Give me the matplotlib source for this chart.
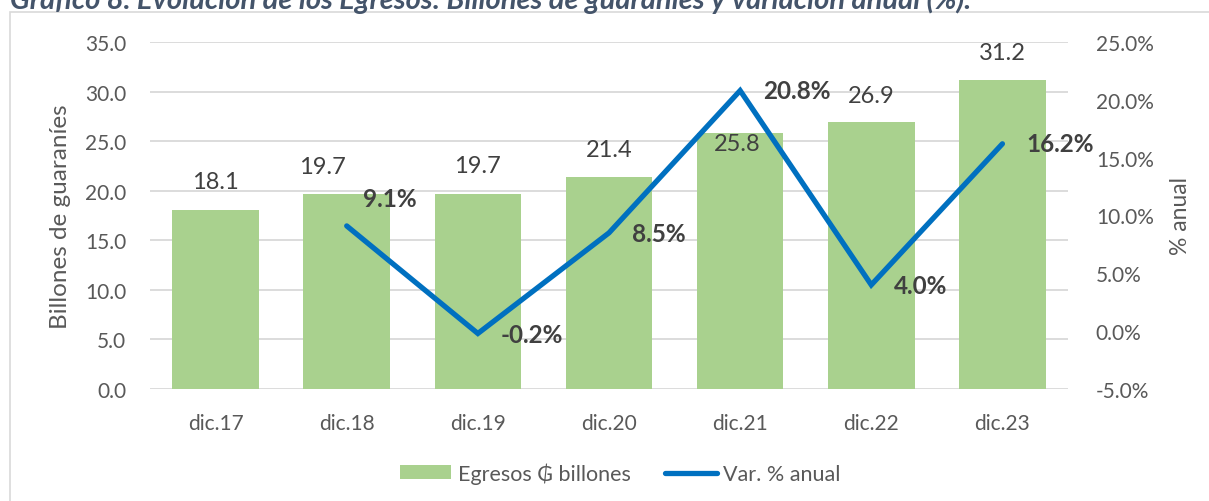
import matplotlib
matplotlib.use('Agg')
import matplotlib.pyplot as plt
from matplotlib.patches import Rectangle
from matplotlib.lines import Line2D
from matplotlib.patches import Patch

plt.rcParams['font.family'] = ['Lato', 'DejaVu Sans']

# data
periodos = ['dic.17', 'dic.18', 'dic.19', 'dic.20', 'dic.21', 'dic.22', 'dic.23']
egresos = [18.1, 19.7, 19.7, 21.4, 25.8, 26.9, 31.2]
variacion = [None, 9.1, -0.2, 8.5, 20.8, 4.0, 16.2]

# label offsets in pixels (hand placed in the original)
bar_lbl_off = [(0, 28), (-24, 27), (0, 28), (0, 27), (-3, -10), (0, 27), (0, 27)]
var_lbl_off = [None, (16, 27), (23, -1), (23, -1), (23, 0), (23, -1), (24, 0)]

bar_color = '#A9D18E'
line_color = '#0070C0'
grid_color = '#D9D9D9'
tick_color = '#595959'
lbl_color = '#404040'

W, H = 1209, 502
fig = plt.figure(figsize=(W / 100, H / 100), dpi=100)

# frame of the chart area
fig.patches.append(Rectangle((10 / W, -0.1), 1.2, 1 - 13 / 502 + 0.1, transform=fig.transFigure,
                             fill=False, edgecolor=grid_color, linewidth=1.2))

# title is cropped at the top edge, as in the source image
fig.text(10 / W, 1 - 9 / H, 'Gráfico 8. Evolución de los Egresos: Billones de guaraníes y variación anual (%).',
         fontsize=21, fontweight='bold', fontstyle='italic', color='#44546A', va='baseline', ha='left')

ax = fig.add_axes([150 / W, 1 - 390 / H, 918 / W, 347 / H])
ax2 = ax.twinx()

x = list(range(len(periodos)))
ax.bar(x, egresos, width=0.66, color=bar_color, zorder=2)
ax.set_xlim(-0.5, len(periodos) - 0.5)
ax.set_ylim(0, 35)
ax.set_yticks([0, 5, 10, 15, 20, 25, 30, 35])
ax.set_yticklabels(['%.1f' % v for v in ax.get_yticks()])
ax.set_xticks(x)
ax.set_xticklabels(periodos)
ax.grid(axis='y', color=grid_color, linewidth=1.3, zorder=0)
ax.set_axisbelow(True)
for s in ax.spines.values():
    s.set_visible(False)
for s in ax2.spines.values():
    s.set_visible(False)
ax.tick_params(axis='y', length=0, pad=17, labelsize=15, labelcolor=tick_color)
ax.tick_params(axis='x', length=0, pad=17, labelsize=15, labelcolor=tick_color)
ax.set_ylabel('Billones de guaraníes', fontsize=17.5, color=tick_color, labelpad=10)

for i, v in enumerate(egresos):
    dx, dy = bar_lbl_off[i]
    ax.annotate('%.1f' % v, (i, v), xytext=(dx, dy), textcoords='offset pixels',
                ha='center', va='center', fontsize=17, color=lbl_color, zorder=5)

xv = [i for i, v in enumerate(variacion) if v is not None]
yv = [v for v in variacion if v is not None]
ax2.plot(xv, yv, color=line_color, linewidth=3.8, solid_capstyle='round', solid_joinstyle='miter', zorder=3)
ax2.set_ylim(-5, 25)
ax2.set_yticks([-5, 0, 5, 10, 15, 20, 25])
ax2.set_yticklabels(['%.1f%%' % v for v in ax2.get_yticks()])
ax2.tick_params(axis='y', length=0, pad=20, labelsize=15, labelcolor=tick_color)
ax2.set_ylabel('% anual', fontsize=16.5, color=tick_color, rotation=90, labelpad=12)

for i, v in enumerate(variacion):
    if v is None:
        continue
    dx, dy = var_lbl_off[i]
    ax2.annotate('%.1f%%' % v, (i, v), xytext=(dx, dy), textcoords='offset pixels',
                 ha='left', va='center', fontsize=17.5, fontweight='bold', color=lbl_color, zorder=6)

handles = [Patch(facecolor=bar_color, edgecolor='none'),
           Line2D([0], [0], color=line_color, linewidth=3.8, solid_capstyle='round')]
fig.legend(handles, ['Egresos ₲ billones', 'Var. % anual'], loc='center', ncol=2,
           bbox_to_anchor=(620 / W, 1 - 474 / H), frameon=False, fontsize=15.5,
           handlelength=2.4, handleheight=0.6, handletextpad=0.3, columnspacing=1.6,
           labelcolor=tick_color)

fig.savefig('out.png', dpi=100)
